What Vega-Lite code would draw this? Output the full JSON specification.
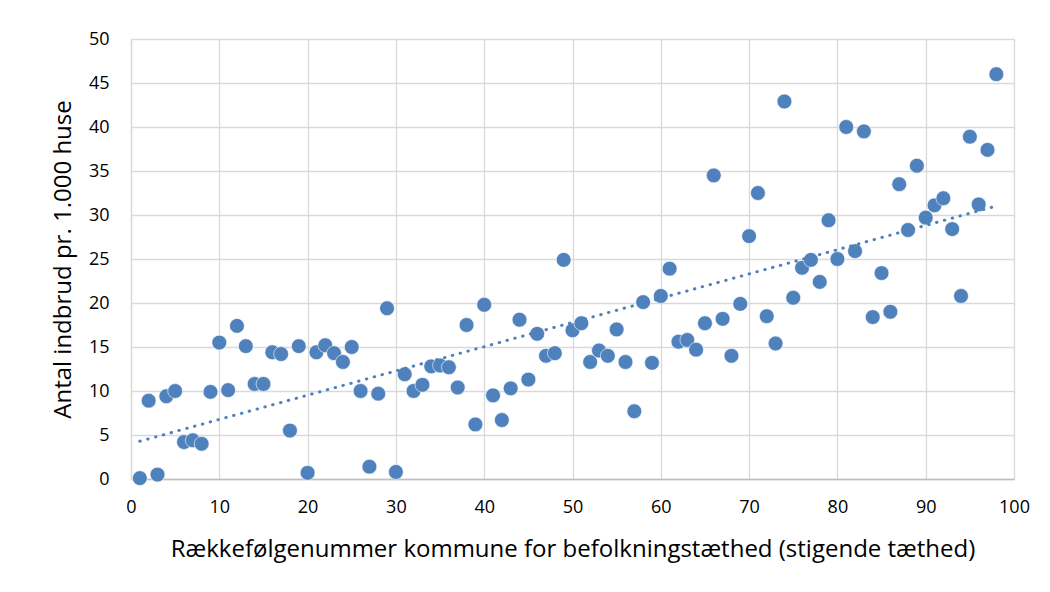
{
  "$schema": "https://vega.github.io/schema/vega-lite/v6.json",
  "autosize": {"type": "none"},
  "padding": {"left": 131, "top": 39, "right": 36, "bottom": 113},
  "width": 883,
  "height": 440,
  "background": "#ffffff",
  "config": {
    "view": {"stroke": null},
    "font": "Open Sans",
    "axis": {"labelFont": "Open Sans", "titleFont": "Open Sans", "labelColor": "#000000", "titleColor": "#000000", "titleFontWeight": "normal"}
  },
  "data": {"values": [
    {"rank": 1, "value": 0.1}, {"rank": 2, "value": 8.9}, {"rank": 3, "value": 0.5}, {"rank": 4, "value": 9.4},
    {"rank": 5, "value": 10.0}, {"rank": 6, "value": 4.2}, {"rank": 7, "value": 4.4}, {"rank": 8, "value": 4.0},
    {"rank": 9, "value": 9.9}, {"rank": 10, "value": 15.5}, {"rank": 11, "value": 10.1}, {"rank": 12, "value": 17.4},
    {"rank": 13, "value": 15.1}, {"rank": 14, "value": 10.8}, {"rank": 15, "value": 10.8}, {"rank": 16, "value": 14.4},
    {"rank": 17, "value": 14.2}, {"rank": 18, "value": 5.5}, {"rank": 19, "value": 15.1}, {"rank": 20, "value": 0.7},
    {"rank": 21, "value": 14.4}, {"rank": 22, "value": 15.2}, {"rank": 23, "value": 14.3}, {"rank": 24, "value": 13.3},
    {"rank": 25, "value": 15.0}, {"rank": 26, "value": 10.0}, {"rank": 27, "value": 1.4}, {"rank": 28, "value": 9.7},
    {"rank": 29, "value": 19.4}, {"rank": 30, "value": 0.8}, {"rank": 31, "value": 11.9}, {"rank": 32, "value": 10.0},
    {"rank": 33, "value": 10.7}, {"rank": 34, "value": 12.8}, {"rank": 35, "value": 12.9}, {"rank": 36, "value": 12.7},
    {"rank": 37, "value": 10.4}, {"rank": 38, "value": 17.5}, {"rank": 39, "value": 6.2}, {"rank": 40, "value": 19.8},
    {"rank": 41, "value": 9.5}, {"rank": 42, "value": 6.7}, {"rank": 43, "value": 10.3}, {"rank": 44, "value": 18.1},
    {"rank": 45, "value": 11.3}, {"rank": 46, "value": 16.5}, {"rank": 47, "value": 14.0}, {"rank": 48, "value": 14.3},
    {"rank": 49, "value": 24.9}, {"rank": 50, "value": 16.9}, {"rank": 51, "value": 17.7}, {"rank": 52, "value": 13.3},
    {"rank": 53, "value": 14.6}, {"rank": 54, "value": 14.0}, {"rank": 55, "value": 17.0}, {"rank": 56, "value": 13.3},
    {"rank": 57, "value": 7.7}, {"rank": 58, "value": 20.1}, {"rank": 59, "value": 13.2}, {"rank": 60, "value": 20.8},
    {"rank": 61, "value": 23.9}, {"rank": 62, "value": 15.6}, {"rank": 63, "value": 15.8}, {"rank": 64, "value": 14.7},
    {"rank": 65, "value": 17.7}, {"rank": 66, "value": 34.5}, {"rank": 67, "value": 18.2}, {"rank": 68, "value": 14.0},
    {"rank": 69, "value": 19.9}, {"rank": 70, "value": 27.6}, {"rank": 71, "value": 32.5}, {"rank": 72, "value": 18.5},
    {"rank": 73, "value": 15.4}, {"rank": 74, "value": 42.9}, {"rank": 75, "value": 20.6}, {"rank": 76, "value": 24.0},
    {"rank": 77, "value": 24.9}, {"rank": 78, "value": 22.4}, {"rank": 79, "value": 29.4}, {"rank": 80, "value": 25.0},
    {"rank": 81, "value": 40.0}, {"rank": 82, "value": 25.9}, {"rank": 83, "value": 39.5}, {"rank": 84, "value": 18.4},
    {"rank": 85, "value": 23.4}, {"rank": 86, "value": 19.0}, {"rank": 87, "value": 33.5}, {"rank": 88, "value": 28.3},
    {"rank": 89, "value": 35.6}, {"rank": 90, "value": 29.7}, {"rank": 91, "value": 31.1}, {"rank": 92, "value": 31.9},
    {"rank": 93, "value": 28.4}, {"rank": 94, "value": 20.8}, {"rank": 95, "value": 38.9}, {"rank": 96, "value": 31.2},
    {"rank": 97, "value": 37.4}, {"rank": 98, "value": 46.0}
  ]},
  "layer": [
    {
      "mark": {"type": "point", "filled": true, "size": 220, "color": "#4f81bd", "opacity": 1, "stroke": "#ffffff", "strokeWidth": 0.6},
      "encoding": {
        "x": {
          "field": "rank", "type": "quantitative",
          "scale": {"domain": [0, 100], "nice": false, "zero": false},
          "axis": {
            "title": "Rækkefølgenummer kommune for befolkningstæthed (stigende tæthed)",
            "values": [0, 10, 20, 30, 40, 50, 60, 70, 80, 90, 100],
            "grid": true, "gridColor": "#d9d9d9", "gridWidth": 1.3,
            "domain": true, "domainColor": "#bfbfbf", "domainWidth": 1.5,
            "ticks": false, "labelPadding": 19, "labelFontSize": 18,
            "labelFlush": false, "labelOverlap": false,
            "titleFontSize": 24, "titlePadding": 21
          }
        },
        "y": {
          "field": "value", "type": "quantitative",
          "scale": {"domain": [0, 50], "nice": false},
          "axis": {
            "title": "Antal indbrud pr. 1.000 huse",
            "values": [0, 5, 10, 15, 20, 25, 30, 35, 40, 45, 50],
            "grid": true, "gridColor": "#d9d9d9", "gridWidth": 1.3,
            "domain": true, "domainColor": "#d9d9d9", "domainWidth": 1.3,
            "ticks": false, "labelPadding": 22, "labelFontSize": 18,
            "labelFlush": false, "labelOverlap": false,
            "titleFontSize": 24, "titlePadding": 13
          }
        }
      }
    },
    {
      "transform": [{"regression": "value", "on": "rank", "extent": [1, 98]}],
      "mark": {"type": "line", "color": "#4f81bd", "strokeWidth": 3, "strokeCap": "round", "strokeDash": [0.5, 7.6]},
      "encoding": {
        "x": {"field": "rank", "type": "quantitative"},
        "y": {"field": "value", "type": "quantitative"}
      }
    }
  ]
}
